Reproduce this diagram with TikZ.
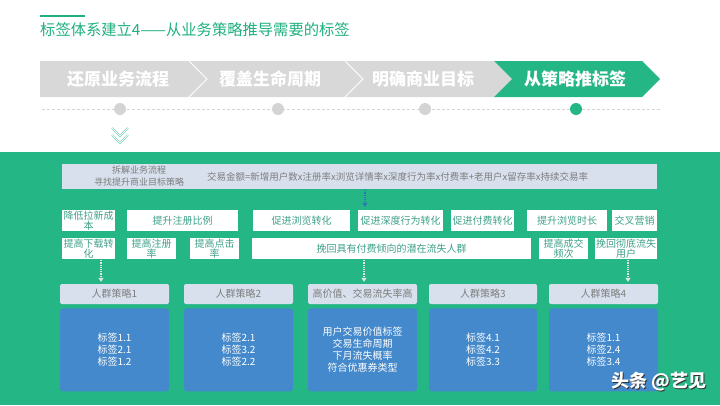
\documentclass[tikz,border=0pt]{standalone}
\usepackage{fontspec}
\setmainfont{Noto Sans CJK SC}
\usetikzlibrary{positioning,arrows.meta}
\definecolor{bggreen}{RGB}{36,183,133}
\definecolor{titlegreen}{RGB}{32,176,127}
\definecolor{stagegrey}{RGB}{216,216,216}
\definecolor{dotgrey}{RGB}{212,212,212}
\definecolor{headfill}{RGB}{215,224,236}
\definecolor{tagblue}{RGB}{68,137,204}
\definecolor{tealtext}{RGB}{62,160,136}
\definecolor{greytext}{RGB}{125,125,125}
\definecolor{arrblue}{RGB}{46,117,182}
\begin{document}
\begin{tikzpicture}[x=1pt,y=-1pt,
    box/.style={fill=white,inner sep=0pt,align=center,text=tealtext,
      font=\fontsize{10}{10.5}\selectfont,minimum height=21pt},
    grp/.style={fill=headfill,rounded corners=2pt,inner sep=0pt,text=greytext,
      font=\fontsize{10}{12}\selectfont,minimum height=20pt},
    tag/.style={fill=tagblue,rounded corners=3pt,inner sep=0pt,text=white,align=center,
      font=\fontsize{10}{12}\selectfont,minimum height=83pt,node distance=4pt},
    stage/.style={text=white,font=\fontsize{17}{17}\selectfont\bfseries},
    dot/.style={circle,fill=dotgrey,minimum size=12pt,inner sep=0pt},
    arr/.style={densely dotted,line width=1.2pt,-{Triangle[width=5pt,length=4pt]}}]
  \useasboundingbox (0,0) rectangle (720,405);
  % title
  \draw[titlegreen,line width=2pt] (40,16) -- (85,16);
  \node[anchor=west,inner sep=0pt,text=titlegreen,font=\fontsize{15.3}{15.3}\selectfont] (title) at (40,30) {标签体系建立4——从业务策略推导需要的标签};
  % stages
  \fill[stagegrey] (40,61) -- (494,61) -- (512,79) -- (494,97) -- (40,97) -- cycle;
  \draw[white,line width=0.8pt] (189,61) -- (207,79) -- (189,97);
  \draw[white,line width=0.8pt] (345,61) -- (363,79) -- (345,97);
  \fill[bggreen] (494,61) -- (642,61) -- (660,79) -- (642,97) -- (494,97) -- (512,79) -- cycle;
  \node[stage] (s1) at (118,79) {还原业务流程};
  \node[stage] (s2) at (270,79) {覆盖生命周期};
  \node[stage] (s3) at (423,79) {明确商业目标};
  \node[stage] (s4) at (575,79) {从策略推标签};
  \draw[dotgrey,dash pattern=on 3pt off 2pt] (42,109) -- (660,109);
  \node[dot] (d1) at (120,109) {};
  \node[dot] (d2) at (278,109) {};
  \node[dot] (d3) at (425,109) {};
  \node[dot,fill=bggreen] (d4) at (576,109) {};
  \foreach \y in {128,135}
    \draw[bggreen!70,double=white,double distance=0.8pt,line width=0.6pt] (112,\y) -- (120,\y+8) -- (128,\y);
  % green panel
  \fill[bggreen] (0,152) rectangle (720,405);
  \node[fill=headfill,minimum width=595pt,minimum height=25pt,inner sep=0pt] (f) at (359.5,176.5) {};
  \node[align=center,text=greytext,font=\fontsize{9}{12}\selectfont] (fl) at (139,176.5) {拆解业务流程\\寻找提升商业目标策略};
  \node[anchor=west,inner sep=0pt,text=greytext,font=\fontsize{9.5}{12}\selectfont] (fr) at (207,176.5) {交易金额=新增用户数x注册率x浏览详情率x深度行为率x付费率+老用户x留存率x持续交易率};
  % goals
  \node[box,minimum width=53pt] (r1a) at (88.5,220.5) {降低拉新成\\本};
  \node[box,minimum width=111pt] (r1b) at (182.5,220.5) {提升注册比例};
  \node[box,minimum width=97pt] (r1c) at (301.5,220.5) {促进浏览转化};
  \node[box,minimum width=85pt] (r1d) at (400.5,220.5) {促进深度行为转化};
  \node[box,minimum width=63pt] (r1e) at (482.5,220.5) {促进付费转化};
  \node[box,minimum width=80pt] (r1f) at (567,220.5) {提升浏览时长};
  \node[box,minimum width=45pt] (r1g) at (634.5,220.5) {交叉营销};
  \node[box,minimum width=53pt] (r2a) at (88.5,248.5) {提高下载转\\化};
  \node[box,minimum width=49pt] (r2b) at (151.5,248.5) {提高注册\\率};
  \node[box,minimum width=49pt] (r2c) at (214.5,248.5) {提高点击\\率};
  \node[box,minimum width=279pt] (r2d) at (391.5,248.5) {挽回具有付费倾向的潜在流失人群};
  \node[box,minimum width=49pt] (r2e) at (563.5,248.5) {提高成交\\频次};
  \node[box,minimum width=62pt] (r2f) at (626,248.5) {挽回彻底流失\\用户};
  % groups
  \node[grp,minimum width=109pt] (g1) at (114.5,294) {人群策略1};
  \node[grp,minimum width=109pt] (g2) at (238.5,294) {人群策略2};
  \node[grp,minimum width=109pt] (g3) at (362.5,294) {高价值、交易流失率高};
  \node[grp,minimum width=108pt] (g4) at (483,294) {人群策略3};
  \node[grp,minimum width=109pt] (g5) at (603.5,294) {人群策略4};
  \node[tag,minimum width=109pt,below=of g1] (t1) {标签1.1\\标签2.1\\标签1.2};
  \node[tag,minimum width=109pt,below=of g2] (t2) {标签2.1\\标签3.2\\标签2.2};
  \node[tag,minimum width=109pt,below=of g3] (t3) {用户交易价值标签\\交易生命周期\\下月流失概率\\符合优惠券类型};
  \node[tag,minimum width=108pt,below=of g4] (t4) {标签4.1\\标签4.2\\标签3.3};
  \node[tag,minimum width=109pt,below=of g5] (t5) {标签1.1\\标签2.4\\标签3.4};
  % arrows
  \coordinate (a0) at (365,0);
  \coordinate (a1) at (101,0);
  \coordinate (a2) at (364,0);
  \coordinate (a3) at (628,0);
  \draw[arr,arrblue,shorten <=1pt,shorten >=3pt] (f.south -| a0) -- (r1d.north -| a0);
  \draw[arr,white!90!black,shorten <=1pt,shorten >=2pt] (r2a.south -| a1) -- (g1.north -| a1);
  \draw[arr,white!90!black,shorten <=1pt,shorten >=2pt] (r2d.south -| a2) -- (g3.north -| a2);
  \draw[arr,white!90!black,shorten <=1pt,shorten >=2pt] (r2f.south -| a3) -- (g5.north -| a3);
  % mark
  \node[text=black!80,font=\fontsize{18}{18}\selectfont\bfseries] (wms) at (660,383) {头条 @艺见};
  \node[text=white,font=\fontsize{18}{18}\selectfont\bfseries] (wm) at (659,382) {头条 @艺见};
\end{tikzpicture}
\end{document}
